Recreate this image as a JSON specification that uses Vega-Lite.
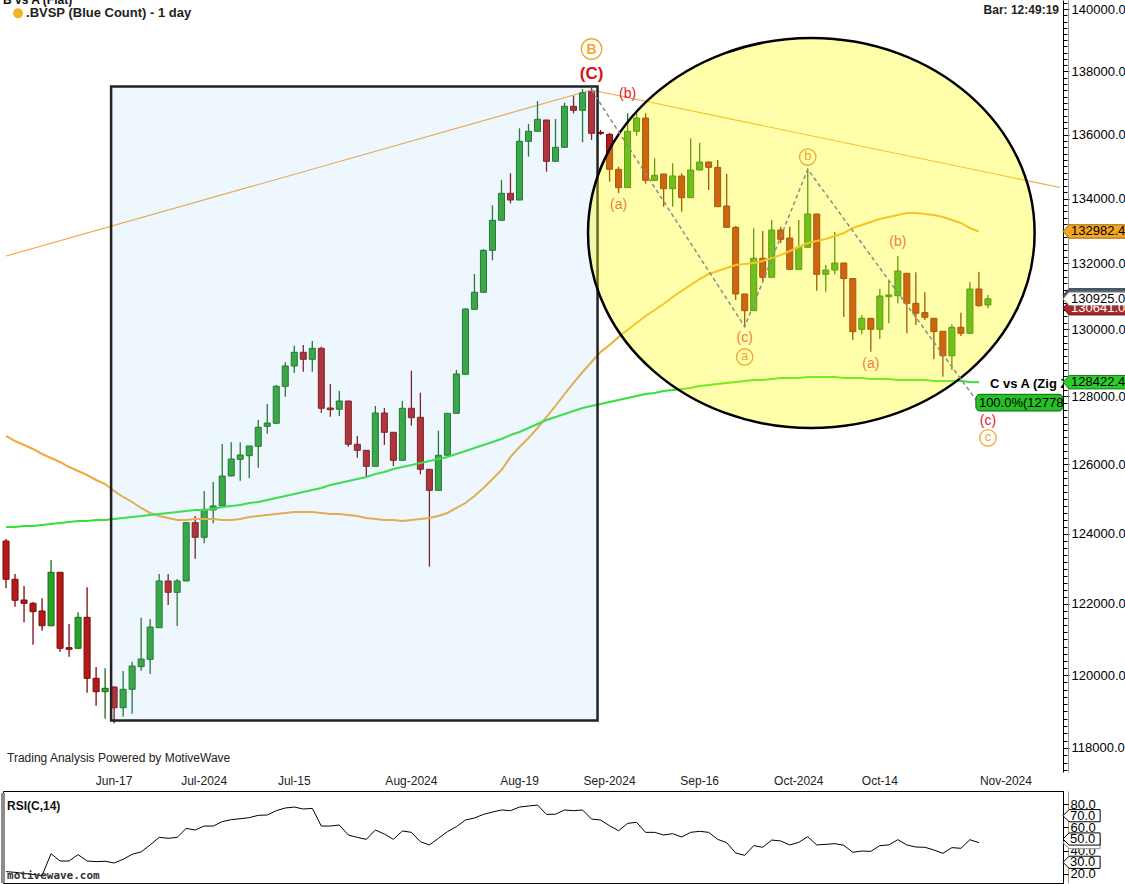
{
"$schema": "https://vega.github.io/schema/vega-lite/v6.json",
"padding": 0,
"spacing": 19,
"bounds": "flush",
"background": "white",
"config": {"font": "Liberation Sans", "view": {"stroke": null}},
"datasets": {
"bars": [
{"d":"2024-05-29","o":123787,"h":123845,"l":122439,"c":122695,"m1":126833,"m2":124189,"r":22.0},
{"d":"2024-05-31","o":122695,"h":122845,"l":121919,"c":122100,"m1":126686,"m2":124189,"r":21.4},
{"d":"2024-06-03","o":122108,"h":122505,"l":121479,"c":122015,"m1":126569,"m2":124218,"r":20.5},
{"d":"2024-06-04","o":122015,"h":122052,"l":120851,"c":121778,"m1":126452,"m2":124218,"r":19.5},
{"d":"2024-06-05","o":121798,"h":122156,"l":121243,"c":121384,"m1":126306,"m2":124247,"r":18.6},
{"d":"2024-06-06","o":121384,"h":123244,"l":121370,"c":122894,"m1":126189,"m2":124276,"r":37.4},
{"d":"2024-06-07","o":122894,"h":122900,"l":120656,"c":120751,"m1":126072,"m2":124305,"r":31.1},
{"d":"2024-06-10","o":120768,"h":121432,"l":120516,"c":120723,"m1":125926,"m2":124333,"r":31.1},
{"d":"2024-06-11","o":120751,"h":121761,"l":120740,"c":121620,"m1":125810,"m2":124362,"r":36.6},
{"d":"2024-06-12","o":121620,"h":122468,"l":119516,"c":119915,"m1":125693,"m2":124362,"r":31.1},
{"d":"2024-06-13","o":119915,"h":120229,"l":119157,"c":119544,"m1":125548,"m2":124391,"r":30.6},
{"d":"2024-06-14","o":119544,"h":120193,"l":118799,"c":119638,"m1":125431,"m2":124391,"r":30.9},
{"d":"2024-06-17","o":119674,"h":119690,"l":118673,"c":119101,"m1":125228,"m2":124420,"r":29.4},
{"d":"2024-06-18","o":119101,"h":120118,"l":118854,"c":119610,"m1":125055,"m2":124449,"r":32.6},
{"d":"2024-06-19","o":119610,"h":120377,"l":118936,"c":120257,"m1":124910,"m2":124477,"r":36.9},
{"d":"2024-06-20","o":120238,"h":121609,"l":120127,"c":120452,"m1":124737,"m2":124506,"r":38.9},
{"d":"2024-06-21","o":120443,"h":121572,"l":120035,"c":121347,"m1":124593,"m2":124535,"r":44.9},
{"d":"2024-06-24","o":121328,"h":122845,"l":121320,"c":122647,"m1":124506,"m2":124564,"r":51.4},
{"d":"2024-06-25","o":122647,"h":122845,"l":121967,"c":122326,"m1":124449,"m2":124593,"r":50.6},
{"d":"2024-06-26","o":122326,"h":122703,"l":121375,"c":122647,"m1":124391,"m2":124621,"r":51.4},
{"d":"2024-06-27","o":122647,"h":124330,"l":122640,"c":124313,"m1":124391,"m2":124650,"r":59.1},
{"d":"2024-06-28","o":124313,"h":124506,"l":123281,"c":123893,"m1":124420,"m2":124679,"r":57.7},
{"d":"2024-07-01","o":123893,"h":125228,"l":123722,"c":124699,"m1":124420,"m2":124679,"r":61.1},
{"d":"2024-07-02","o":124679,"h":125490,"l":124296,"c":124795,"m1":124420,"m2":124708,"r":61.1},
{"d":"2024-07-03","o":124795,"h":126599,"l":124790,"c":125664,"m1":124391,"m2":124766,"r":64.9},
{"d":"2024-07-04","o":125664,"h":126649,"l":125660,"c":126159,"m1":124391,"m2":124795,"r":66.6},
{"d":"2024-07-05","o":126150,"h":126649,"l":125528,"c":126276,"m1":124420,"m2":124824,"r":67.4},
{"d":"2024-07-08","o":126256,"h":126540,"l":125597,"c":126540,"m1":124477,"m2":124881,"r":68.3},
{"d":"2024-07-09","o":126530,"h":127304,"l":125906,"c":127089,"m1":124506,"m2":124910,"r":70.3},
{"d":"2024-07-10","o":127118,"h":127775,"l":126901,"c":127215,"m1":124535,"m2":124968,"r":70.6},
{"d":"2024-07-11","o":127206,"h":128339,"l":127200,"c":128301,"m1":124564,"m2":125026,"r":74.3},
{"d":"2024-07-12","o":128301,"h":129015,"l":127992,"c":128905,"m1":124593,"m2":125084,"r":76.6},
{"d":"2024-07-15","o":128905,"h":129512,"l":128706,"c":129314,"m1":124621,"m2":125142,"r":77.4},
{"d":"2024-07-16","o":129314,"h":129533,"l":128735,"c":129105,"m1":124621,"m2":125199,"r":75.7},
{"d":"2024-07-17","o":129105,"h":129653,"l":128735,"c":129434,"m1":124621,"m2":125257,"r":76.3},
{"d":"2024-07-18","o":129434,"h":129484,"l":127519,"c":127649,"m1":124593,"m2":125315,"r":61.1},
{"d":"2024-07-19","o":127658,"h":128369,"l":127401,"c":127608,"m1":124564,"m2":125403,"r":61.1},
{"d":"2024-07-22","o":127620,"h":128161,"l":127422,"c":127864,"m1":124564,"m2":125461,"r":62.0},
{"d":"2024-07-23","o":127864,"h":127870,"l":126520,"c":126590,"m1":124535,"m2":125519,"r":53.4},
{"d":"2024-07-24","o":126590,"h":126833,"l":126197,"c":126414,"m1":124506,"m2":125577,"r":51.4},
{"d":"2024-07-25","o":126414,"h":126420,"l":125635,"c":125947,"m1":124449,"m2":125635,"r":49.7},
{"d":"2024-07-26","o":125947,"h":127717,"l":125940,"c":127510,"m1":124420,"m2":125722,"r":57.7},
{"d":"2024-07-29","o":127510,"h":127658,"l":126570,"c":126942,"m1":124391,"m2":125781,"r":54.3},
{"d":"2024-07-30","o":126942,"h":126950,"l":125956,"c":126121,"m1":124391,"m2":125868,"r":49.7},
{"d":"2024-07-31","o":126121,"h":127864,"l":126115,"c":127649,"m1":124362,"m2":125926,"r":56.9},
{"d":"2024-08-01","o":127649,"h":128765,"l":127136,"c":127372,"m1":124391,"m2":125985,"r":55.7},
{"d":"2024-08-02","o":127383,"h":128111,"l":125714,"c":125860,"m1":124420,"m2":126042,"r":47.7},
{"d":"2024-08-05","o":125860,"h":125870,"l":123053,"c":125248,"m1":124449,"m2":126101,"r":44.9},
{"d":"2024-08-06","o":125248,"h":126989,"l":125240,"c":126268,"m1":124506,"m2":126160,"r":50.6},
{"d":"2024-08-07","o":126268,"h":127510,"l":126260,"c":127500,"m1":124593,"m2":126218,"r":56.3},
{"d":"2024-08-08","o":127500,"h":128786,"l":127495,"c":128667,"m1":124737,"m2":126306,"r":60.6},
{"d":"2024-08-09","o":128658,"h":130638,"l":128650,"c":130617,"m1":124881,"m2":126394,"r":66.3},
{"d":"2024-08-12","o":130608,"h":131679,"l":130600,"c":131123,"m1":125084,"m2":126482,"r":68.0},
{"d":"2024-08-13","o":131123,"h":132434,"l":131120,"c":132404,"m1":125315,"m2":126569,"r":71.1},
{"d":"2024-08-14","o":132404,"h":133790,"l":132098,"c":133327,"m1":125577,"m2":126657,"r":73.1},
{"d":"2024-08-15","o":133327,"h":134576,"l":133320,"c":134162,"m1":125839,"m2":126745,"r":74.9},
{"d":"2024-08-16","o":134162,"h":134785,"l":133852,"c":133954,"m1":126218,"m2":126862,"r":74.3},
{"d":"2024-08-19","o":133954,"h":136197,"l":133950,"c":135787,"m1":126511,"m2":126950,"r":77.4},
{"d":"2024-08-20","o":135787,"h":136332,"l":135304,"c":136102,"m1":126775,"m2":127068,"r":78.3},
{"d":"2024-08-21","o":136102,"h":137059,"l":136100,"c":136480,"m1":127068,"m2":127186,"r":79.1},
{"d":"2024-08-22","o":136458,"h":136458,"l":134835,"c":135160,"m1":127393,"m2":127304,"r":71.1},
{"d":"2024-08-23","o":135160,"h":136490,"l":135155,"c":135599,"m1":127717,"m2":127393,"r":71.3},
{"d":"2024-08-26","o":135599,"h":137005,"l":135595,"c":136891,"m1":128072,"m2":127481,"r":74.9},
{"d":"2024-08-27","o":136891,"h":137228,"l":136670,"c":136765,"m1":128399,"m2":127570,"r":74.3},
{"d":"2024-08-28","o":136765,"h":137440,"l":135756,"c":137323,"m1":128726,"m2":127658,"r":74.9},
{"d":"2024-08-29","o":137355,"h":137470,"l":135828,"c":136039,"m1":129024,"m2":127717,"r":67.1},
{"d":"2024-08-30","o":136070,"h":136143,"l":135985,"c":136035,"m1":129323,"m2":127776,"r":66.3},
{"d":"2024-09-02","o":136006,"h":136050,"l":134523,"c":134910,"m1":129533,"m2":127835,"r":61.4},
{"d":"2024-09-03","o":134910,"h":134991,"l":134162,"c":134337,"m1":129773,"m2":127894,"r":57.1},
{"d":"2024-09-04","o":134337,"h":136670,"l":134330,"c":136102,"m1":129984,"m2":127953,"r":63.4},
{"d":"2024-09-05","o":136102,"h":136670,"l":135963,"c":136521,"m1":130195,"m2":128013,"r":64.3},
{"d":"2024-09-06","o":136521,"h":136670,"l":134461,"c":134567,"m1":130406,"m2":128072,"r":55.7},
{"d":"2024-09-09","o":134567,"h":135254,"l":134560,"c":134723,"m1":130587,"m2":128102,"r":55.7},
{"d":"2024-09-10","o":134763,"h":134770,"l":133747,"c":134305,"m1":130768,"m2":128161,"r":53.4},
{"d":"2024-09-11","o":134305,"h":135098,"l":133747,"c":134701,"m1":130981,"m2":128191,"r":54.6},
{"d":"2024-09-12","o":134701,"h":134785,"l":133592,"c":134026,"m1":131163,"m2":128221,"r":51.7},
{"d":"2024-09-13","o":134026,"h":135881,"l":134020,"c":134888,"m1":131345,"m2":128250,"r":55.7},
{"d":"2024-09-16","o":134888,"h":135743,"l":134880,"c":135138,"m1":131527,"m2":128310,"r":56.6},
{"d":"2024-09-17","o":135138,"h":135145,"l":134265,"c":134971,"m1":131679,"m2":128339,"r":55.7},
{"d":"2024-09-18","o":134971,"h":135201,"l":133740,"c":133747,"m1":131771,"m2":128369,"r":49.7},
{"d":"2024-09-19","o":133769,"h":134763,"l":133105,"c":133110,"m1":131862,"m2":128399,"r":46.9},
{"d":"2024-09-20","o":133110,"h":133150,"l":130889,"c":131071,"m1":131954,"m2":128429,"r":38.0},
{"d":"2024-09-23","o":131071,"h":131080,"l":130083,"c":130566,"m1":131984,"m2":128458,"r":36.0},
{"d":"2024-09-24","o":130566,"h":133079,"l":130560,"c":132159,"m1":132015,"m2":128488,"r":44.3},
{"d":"2024-09-25","o":132159,"h":132997,"l":131476,"c":131579,"m1":132076,"m2":128488,"r":42.9},
{"d":"2024-09-26","o":131579,"h":133336,"l":131570,"c":133027,"m1":132168,"m2":128518,"r":49.1},
{"d":"2024-09-27","o":133027,"h":133129,"l":132619,"c":132741,"m1":132260,"m2":128548,"r":48.3},
{"d":"2024-09-30","o":132781,"h":133129,"l":131815,"c":131821,"m1":132382,"m2":128548,"r":44.9},
{"d":"2024-10-01","o":131821,"h":133336,"l":131815,"c":132496,"m1":132505,"m2":128548,"r":47.1},
{"d":"2024-10-02","o":132496,"h":134910,"l":132490,"c":133521,"m1":132628,"m2":128577,"r":52.0},
{"d":"2024-10-03","o":133521,"h":133530,"l":131172,"c":131670,"m1":132689,"m2":128577,"r":44.9},
{"d":"2024-10-04","o":131670,"h":131953,"l":131142,"c":131801,"m1":132751,"m2":128577,"r":45.4},
{"d":"2024-10-07","o":131801,"h":132976,"l":131670,"c":132015,"m1":132843,"m2":128577,"r":46.0},
{"d":"2024-10-08","o":132015,"h":132020,"l":130376,"c":131540,"m1":132935,"m2":128548,"r":44.6},
{"d":"2024-10-09","o":131540,"h":131545,"l":129683,"c":129933,"m1":133089,"m2":128548,"r":38.6},
{"d":"2024-10-10","o":130004,"h":130436,"l":129855,"c":130336,"m1":133182,"m2":128548,"r":39.7},
{"d":"2024-10-11","o":130336,"h":130340,"l":129330,"c":130004,"m1":133274,"m2":128518,"r":39.4},
{"d":"2024-10-14","o":130004,"h":131223,"l":129713,"c":131011,"m1":133367,"m2":128518,"r":44.3},
{"d":"2024-10-15","o":130990,"h":131467,"l":130186,"c":131041,"m1":133429,"m2":128518,"r":44.9},
{"d":"2024-10-16","o":131020,"h":132229,"l":130789,"c":131771,"m1":133491,"m2":128488,"r":49.4},
{"d":"2024-10-17","o":131700,"h":131700,"l":129885,"c":130789,"m1":133552,"m2":128488,"r":44.9},
{"d":"2024-10-18","o":130789,"h":131731,"l":130135,"c":130487,"m1":133552,"m2":128488,"r":43.1},
{"d":"2024-10-21","o":130506,"h":131123,"l":130285,"c":130367,"m1":133521,"m2":128488,"r":42.9},
{"d":"2024-10-22","o":130336,"h":130340,"l":129104,"c":129933,"m1":133491,"m2":128458,"r":40.6},
{"d":"2024-10-23","o":129945,"h":129950,"l":128586,"c":129213,"m1":133429,"m2":128458,"r":37.7},
{"d":"2024-10-24","o":129213,"h":130155,"l":128786,"c":130065,"m1":133336,"m2":128458,"r":42.6},
{"d":"2024-10-25","o":130065,"h":130506,"l":129804,"c":129885,"m1":133244,"m2":128458,"r":42.0},
{"d":"2024-10-28","o":129885,"h":131428,"l":129880,"c":131223,"m1":133089,"m2":128429,"r":49.4},
{"d":"2024-10-29","o":131223,"h":131750,"l":130687,"c":130717,"m1":132982.4,"m2":128422.4,"r":46.9},
{"d":"2024-10-30","o":130738,"h":131041,"l":130641,"c":130925,"m1":null,"m2":null,"r":null}
],
"lab": [
{"d":"2024-08-29","p":138719,"t":"B","k":"circB"},
{"d":"2024-08-29","p":137920,"t":"(C)","k":"redBold"},
{"d":"2024-09-04","p":137281,"t":"(b)","k":"red"},
{"d":"2024-09-03","p":133800,"t":"(a)","k":"orange"},
{"d":"2024-09-23","p":129744,"t":"(c)","k":"orange"},
{"d":"2024-09-23","p":129174,"t":"a","k":"circ"},
{"d":"2024-10-02","p":135294,"t":"b","k":"circ"},
{"d":"2024-10-16","p":132659,"t":"(b)","k":"orange"},
{"d":"2024-10-11","p":128964,"t":"(a)","k":"orange"},
{"d":"2024-10-30","p":127274,"t":"(c)","k":"red"},
{"d":"2024-10-30","p":126776,"t":"c","k":"circ"}
],
"tags": [
{"k":"ma50","p":132982.4},
{"k":"slate","p":131030},
{"k":"prev","p":130641},
{"k":"last","p":130925},
{"k":"ma200","p":128422.4}
],
"rsitags": [
{"k":"cur","v":46.9},
{"k":"lvl","v":70},
{"k":"lvl","v":50},
{"k":"lvl","v":30}
]
},
"vconcat": [
{
"width": 1060,
"height": 772,
"view": {"stroke": null},
"data": {"name": "bars"},
"encoding": {
"x": {"field": "d", "type": "ordinal", "axis": null,
"scale": {"type": "band", "paddingInner": 0.33, "paddingOuter": 0,
"domain": ["2024-05-29","2024-05-31","2024-06-03","2024-06-04","2024-06-05","2024-06-06","2024-06-07","2024-06-10","2024-06-11","2024-06-12","2024-06-13","2024-06-14","2024-06-17","2024-06-18","2024-06-19","2024-06-20","2024-06-21","2024-06-24","2024-06-25","2024-06-26","2024-06-27","2024-06-28","2024-07-01","2024-07-02","2024-07-03","2024-07-04","2024-07-05","2024-07-08","2024-07-09","2024-07-10","2024-07-11","2024-07-12","2024-07-15","2024-07-16","2024-07-17","2024-07-18","2024-07-19","2024-07-22","2024-07-23","2024-07-24","2024-07-25","2024-07-26","2024-07-29","2024-07-30","2024-07-31","2024-08-01","2024-08-02","2024-08-05","2024-08-06","2024-08-07","2024-08-08","2024-08-09","2024-08-12","2024-08-13","2024-08-14","2024-08-15","2024-08-16","2024-08-19","2024-08-20","2024-08-21","2024-08-22","2024-08-23","2024-08-26","2024-08-27","2024-08-28","2024-08-29","2024-08-30","2024-09-02","2024-09-03","2024-09-04","2024-09-05","2024-09-06","2024-09-09","2024-09-10","2024-09-11","2024-09-12","2024-09-13","2024-09-16","2024-09-17","2024-09-18","2024-09-19","2024-09-20","2024-09-23","2024-09-24","2024-09-25","2024-09-26","2024-09-27","2024-09-30","2024-10-01","2024-10-02","2024-10-03","2024-10-04","2024-10-07","2024-10-08","2024-10-09","2024-10-10","2024-10-11","2024-10-14","2024-10-15","2024-10-16","2024-10-17","2024-10-18","2024-10-21","2024-10-22","2024-10-23","2024-10-24","2024-10-25","2024-10-28","2024-10-29","2024-10-30","2024-10-31","2024-11-01","2024-11-04","2024-11-05","2024-11-06","2024-11-07","2024-11-08","2024-11-11"]}}
},
"resolve": {"axis": {"x": "independent", "y": "independent"}},
"layer": [
{
"data": {"values": [
{"g":"t1","d":"2024-05-29","p":132229},{"g":"t1","d":"2024-08-29","p":137409},
{"g":"t2","d":"2024-08-29","p":137409},{"g":"t2","d":"2024-11-11","p":134343}]},
"mark": {"type": "line", "color": "#f3a53c", "strokeWidth": 1.1, "clip": true},
"encoding": {
"x": {"field": "d", "type": "ordinal", "axis": null},
"y": {"field": "p", "type": "quantitative", "scale": {"type": "log", "domain": [117342, 140302], "nice": false, "zero": false}, "axis": null},
"detail": {"field": "g"}
}
},
{
"mark": {"type": "rule", "strokeWidth": 1.3},
"encoding": {
"y": {"field": "l", "type": "quantitative", "scale": {"type": "log", "domain": [117342, 140302], "nice": false, "zero": false},
"axis": {"orient": "right", "values": [117400,117600,117800,118000,118200,118400,118600,118800,119000,119200,119400,119600,119800,120000,120200,120400,120600,120800,121000,121200,121400,121600,121800,122000,122200,122400,122600,122800,123000,123200,123400,123600,123800,124000,124200,124400,124600,124800,125000,125200,125400,125600,125800,126000,126200,126400,126600,126800,127000,127200,127400,127600,127800,128000,128200,128400,128600,128800,129000,129200,129400,129600,129800,130000,130200,130400,130600,130800,131000,131200,131400,131600,131800,132000,132200,132400,132600,132800,133000,133200,133400,133600,133800,134000,134200,134400,134600,134800,135000,135200,135400,135600,135800,136000,136200,136400,136600,136800,137000,137200,137400,137600,137800,138000,138200,138400,138600,138800,139000,139200,139400,139600,139800,140000,140200],
"labels": false, "domain": false, "grid": false, "title": null, "tickSize": 4, "tickColor": "#000"}},
"y2": {"field": "h"},
"color": {"condition": {"test": "datum.c >= datum.o", "value": "#176a17"}, "value": "#7a0a0a"}
}
},
{
"mark": {"type": "bar", "strokeWidth": 1},
"encoding": {
"x": {"field": "d", "type": "ordinal",
"axis": {"values": ["2024-06-17","2024-07-01","2024-07-15","2024-08-01","2024-08-19","2024-09-02","2024-09-16","2024-10-01","2024-10-14","2024-11-01"],
"labelExpr": "utcdate(toDate(datum.value)) < 5 ? utcFormat(toDate(datum.value), '%b-%Y') : utcFormat(toDate(datum.value), '%b-%d')",
"orient": "bottom", "ticks": false, "tickSize": 0, "domain": false, "grid": false, "title": null, "labelAngle": 0,
"labelFontSize": 12, "labelColor": "#222", "labelPadding": 3, "labelBaseline": "top", "labelOverlap": false}},
"y": {"field": "o", "type": "quantitative", "scale": {"type": "log", "domain": [117342, 140302], "nice": false, "zero": false},
"axis": {"orient": "right", "values": [118000,120000,122000,124000,126000,128000,130000,132000,134000,136000,138000,140000],
"format": ".1f", "title": null, "grid": false, "tickSize": 6, "tickColor": "#000", "domainColor": "#000",
"labelFontSize": 13, "labelColor": "#000", "labelPadding": 2, "labelBound": false, "labelOverlap": false, "labelFlush": false}},
"y2": {"field": "c"},
"fill": {"condition": {"test": "datum.c >= datum.o", "value": "#2aa32a"}, "value": "#b51a1a"},
"stroke": {"condition": {"test": "datum.c >= datum.o", "value": "#176a17"}, "value": "#7a0a0a"}
}
},
{
"mark": {"type": "line", "color": "#f2a83a", "strokeWidth": 2},
"encoding": {
"y": {"field": "m1", "type": "quantitative",
"axis": {"orient": "right", "offset": 5, "domain": true, "domainColor": "#9a9a9a", "ticks": false, "labels": false, "grid": false, "title": null}}
}
},
{
"mark": {"type": "line", "color": "#33e033", "strokeWidth": 2},
"encoding": {"y": {"field": "m2", "type": "quantitative", "axis": null}}
},
{
"data": {"values": [{"d1": "2024-06-17", "d2": "2024-08-30", "lo": 118749, "hi": 137520}]},
"mark": {"type": "rect", "fill": "#8cc8f5", "fillOpacity": 0.15, "stroke": "#222", "strokeWidth": 2.5},
"encoding": {
"x": {"field": "d1", "type": "ordinal", "bandPosition": 0, "axis": null},
"x2": {"field": "d2", "bandPosition": 0},
"y": {"field": "lo", "type": "quantitative", "axis": null},
"y2": {"field": "hi"}
}
},
{
"data": {"values": [{"d": "2024-10-02", "p": 132935}]},
"mark": {"type": "point", "filled": true, "fill": "#ffff00", "fillOpacity": 0.33, "stroke": "#000", "strokeWidth": 2.5, "strokeOpacity": 1, "opacity": 1, "size": 199452,
"shape": "M 1.016 0 C 1.016 0.4823 0.5683 0.8733 0.016 0.8733 C -0.5363 0.8733 -0.984 0.4823 -0.984 0 C -0.984 -0.4823 -0.5363 -0.8733 0.016 -0.8733 C 0.5683 -0.8733 1.016 -0.4823 1.016 0 Z"},
"encoding": {
"x": {"field": "d", "type": "ordinal", "axis": null},
"y": {"field": "p", "type": "quantitative", "axis": null}
}
},
{
"data": {"values": [{"k":1,"d":"2024-08-29","p":137409},{"k":2,"d":"2024-09-23","p":130083},{"k":3,"d":"2024-10-02","p":134910},{"k":4,"d":"2024-10-29","p":127781}]},
"mark": {"type": "line", "color": "#8a8a8a", "strokeWidth": 1.5, "strokeDash": [4, 3]},
"encoding": {
"x": {"field": "d", "type": "ordinal", "axis": null},
"y": {"field": "p", "type": "quantitative", "axis": null},
"order": {"field": "k"}
}
},
{
"data": {"name": "lab"},
"transform": [{"filter": "datum.k == 'orange'"}],
"mark": {"type": "text", "color": "#ef7d3a", "fontSize": 14, "baseline": "middle", "align": "center"},
"encoding": {"x": {"field": "d", "type": "ordinal", "axis": null}, "y": {"field": "p", "type": "quantitative", "axis": null}, "text": {"field": "t"}}
},
{
"data": {"name": "lab"},
"transform": [{"filter": "datum.k == 'red'"}],
"mark": {"type": "text", "color": "#e02424", "fontSize": 14, "baseline": "middle", "align": "center"},
"encoding": {"x": {"field": "d", "type": "ordinal", "axis": null}, "y": {"field": "p", "type": "quantitative", "axis": null}, "text": {"field": "t"}}
},
{
"data": {"name": "lab"},
"transform": [{"filter": "datum.k == 'redBold'"}],
"mark": {"type": "text", "color": "#e01010", "fontSize": 17, "fontWeight": "bold", "baseline": "middle", "align": "center"},
"encoding": {"x": {"field": "d", "type": "ordinal", "axis": null}, "y": {"field": "p", "type": "quantitative", "axis": null}, "text": {"field": "t"}}
},
{
"data": {"name": "lab"},
"transform": [{"filter": "datum.k == 'circ' || datum.k == 'circB'"}],
"mark": {"type": "point", "shape": "circle", "filled": false, "stroke": "#f2a632", "strokeWidth": 1.3, "opacity": 1},
"encoding": {"x": {"field": "d", "type": "ordinal", "axis": null}, "y": {"field": "p", "type": "quantitative", "axis": null},
"size": {"field": "k", "type": "nominal", "scale": {"domain": ["circB", "circ"], "range": [420, 270]}, "legend": null}}
},
{
"data": {"name": "lab"},
"transform": [{"filter": "datum.k == 'circB'"}],
"mark": {"type": "text", "color": "#f2a632", "fontSize": 14, "fontWeight": "bold", "baseline": "middle", "align": "center", "dy": 1},
"encoding": {"x": {"field": "d", "type": "ordinal", "axis": null}, "y": {"field": "p", "type": "quantitative", "axis": null}, "text": {"field": "t"}}
},
{
"data": {"name": "lab"},
"transform": [{"filter": "datum.k == 'circ'"}],
"mark": {"type": "text", "color": "#f2a632", "fontSize": 13, "baseline": "middle", "align": "center", "dy": -1},
"encoding": {"x": {"field": "d", "type": "ordinal", "axis": null}, "y": {"field": "p", "type": "quantitative", "axis": null}, "text": {"field": "t"}}
},
{
"data": {"values": [{"d1": "2024-10-29", "d2": "2024-11-11", "lo": 127569, "hi": 128063}]},
"mark": {"type": "rect", "fill": "#25c025", "stroke": "#106010", "strokeWidth": 1, "cornerRadius": 4, "clip": true},
"encoding": {
"x": {"field": "d1", "type": "ordinal", "bandPosition": 0, "axis": null},
"x2": {"field": "d2", "bandPosition": 1},
"y": {"field": "lo", "type": "quantitative", "axis": null},
"y2": {"field": "hi"}
}
},
{
"data": {"values": [{"d": "2024-10-29", "p": 127810, "t": "100.0%(127781.0)"}]},
"mark": {"type": "text", "color": "#000", "fontSize": 13, "align": "left", "baseline": "middle", "dx": 0, "clip": true},
"encoding": {"x": {"field": "d", "type": "ordinal", "axis": null}, "y": {"field": "p", "type": "quantitative", "axis": null}, "text": {"field": "t"}}
},
{
"data": {"values": [{"d": "2024-10-30", "p": 128369, "t": "C vs A (Zig Zag)"}]},
"mark": {"type": "text", "color": "#000", "fontSize": 13, "fontWeight": "bold", "align": "left", "baseline": "middle", "dx": 2, "clip": true},
"encoding": {"x": {"field": "d", "type": "ordinal", "axis": null}, "y": {"field": "p", "type": "quantitative", "axis": null}, "text": {"field": "t"}}
},
{
"data": {"values": [{"d": "2024-05-29", "p": 140302, "t": "B vs A (Flat)"}]},
"mark": {"type": "text", "color": "#111", "fontSize": 12, "fontWeight": "bold", "align": "left", "baseline": "middle", "dx": -3, "clip": true},
"encoding": {"x": {"field": "d", "type": "ordinal", "axis": null}, "y": {"field": "p", "type": "quantitative", "axis": null}, "text": {"field": "t"}}
},
{
"data": {"values": [{"d": "2024-05-31", "p": 139870}]},
"mark": {"type": "point", "filled": true, "fill": "#f5b325", "opacity": 1, "size": 100,
"shape": "M 1.6 0 C 1.6 0.5523 1.1523 1 0.6 1 C 0.0477 1 -0.4 0.5523 -0.4 0 C -0.4 -0.5523 0.0477 -1 0.6 -1 C 1.1523 -1 1.6 -0.5523 1.6 0 Z"},
"encoding": {"x": {"field": "d", "type": "ordinal", "axis": null}, "y": {"field": "p", "type": "quantitative", "axis": null}}
},
{
"data": {"values": [{"d": "2024-05-31", "p": 139870, "t": ".BVSP (Blue Count) - 1 day"}]},
"mark": {"type": "text", "color": "#222", "fontSize": 13, "fontWeight": "bold", "align": "left", "baseline": "middle", "dx": 11, "clip": true},
"encoding": {"x": {"field": "d", "type": "ordinal", "axis": null}, "y": {"field": "p", "type": "quantitative", "axis": null}, "text": {"field": "t"}}
},
{
"data": {"values": [{"d": "2024-11-11", "p": 139977, "t": "Bar: 12:49:19"}]},
"mark": {"type": "text", "color": "#222", "fontSize": 12, "fontWeight": "bold", "align": "right", "baseline": "middle", "dx": -1, "clip": true},
"encoding": {"x": {"field": "d", "type": "ordinal", "axis": null}, "y": {"field": "p", "type": "quantitative", "axis": null}, "text": {"field": "t"}}
},
{
"data": {"values": [{"d": "2024-05-29", "p": 117723, "t": "Trading Analysis Powered by MotiveWave"}]},
"mark": {"type": "text", "color": "#222", "fontSize": 12, "align": "left", "baseline": "middle", "dx": 1, "clip": true},
"encoding": {"x": {"field": "d", "type": "ordinal", "axis": null}, "y": {"field": "p", "type": "quantitative", "axis": null}, "text": {"field": "t"}}
},
{
"data": {"name": "tags"},
"mark": {"type": "point", "filled": true, "opacity": 1, "strokeWidth": 1, "size": 4096,
"shape": "M 0 0 L 0.19 -0.21 L 1.97 -0.21 L 1.97 0.21 L 0.19 0.21 Z"},
"encoding": {
"x": {"value": "width"},
"y": {"field": "p", "type": "quantitative", "axis": null},
"fill": {"field": "k", "type": "nominal", "scale": {"domain": ["ma50", "slate", "prev", "last", "ma200"], "range": ["#f5a623", "#4d5d6d", "#a52a2a", "#ffffff", "#2fcc2f"]}, "legend": null},
"stroke": {"field": "k", "type": "nominal", "scale": {"domain": ["ma50", "slate", "prev", "last", "ma200"], "range": ["#a06a10", "#2d3d4d", "#701515", "#8a8a8a", "#138013"]}, "legend": null}
}
},
{
"data": {"name": "tags"},
"transform": [{"filter": "datum.k != 'slate'"}],
"mark": {"type": "text", "fontSize": 13, "align": "left", "baseline": "middle", "dx": 8},
"encoding": {
"x": {"value": "width"},
"y": {"field": "p", "type": "quantitative", "axis": null},
"text": {"field": "p", "type": "quantitative", "format": ".1f"},
"color": {"condition": {"test": "datum.k == 'prev'", "value": "#ffffff"}, "value": "#000000"}
}
}
]
},
{
"width": 1060,
"height": 92,
"view": {"stroke": "#000", "strokeWidth": 1},
"data": {"name": "bars"},
"encoding": {
"x": {"field": "d", "type": "ordinal", "axis": null,
"scale": {"type": "band", "paddingInner": 0.33, "paddingOuter": 0,
"domain": ["2024-05-29","2024-05-31","2024-06-03","2024-06-04","2024-06-05","2024-06-06","2024-06-07","2024-06-10","2024-06-11","2024-06-12","2024-06-13","2024-06-14","2024-06-17","2024-06-18","2024-06-19","2024-06-20","2024-06-21","2024-06-24","2024-06-25","2024-06-26","2024-06-27","2024-06-28","2024-07-01","2024-07-02","2024-07-03","2024-07-04","2024-07-05","2024-07-08","2024-07-09","2024-07-10","2024-07-11","2024-07-12","2024-07-15","2024-07-16","2024-07-17","2024-07-18","2024-07-19","2024-07-22","2024-07-23","2024-07-24","2024-07-25","2024-07-26","2024-07-29","2024-07-30","2024-07-31","2024-08-01","2024-08-02","2024-08-05","2024-08-06","2024-08-07","2024-08-08","2024-08-09","2024-08-12","2024-08-13","2024-08-14","2024-08-15","2024-08-16","2024-08-19","2024-08-20","2024-08-21","2024-08-22","2024-08-23","2024-08-26","2024-08-27","2024-08-28","2024-08-29","2024-08-30","2024-09-02","2024-09-03","2024-09-04","2024-09-05","2024-09-06","2024-09-09","2024-09-10","2024-09-11","2024-09-12","2024-09-13","2024-09-16","2024-09-17","2024-09-18","2024-09-19","2024-09-20","2024-09-23","2024-09-24","2024-09-25","2024-09-26","2024-09-27","2024-09-30","2024-10-01","2024-10-02","2024-10-03","2024-10-04","2024-10-07","2024-10-08","2024-10-09","2024-10-10","2024-10-11","2024-10-14","2024-10-15","2024-10-16","2024-10-17","2024-10-18","2024-10-21","2024-10-22","2024-10-23","2024-10-24","2024-10-25","2024-10-28","2024-10-29","2024-10-30","2024-10-31","2024-11-01","2024-11-04","2024-11-05","2024-11-06","2024-11-07","2024-11-08","2024-11-11"]}}
},
"resolve": {"axis": {"y": "independent"}},
"layer": [
{
"data": {"values": [{"v": 70}, {"v": 30}]},
"mark": {"type": "rule", "color": "#000", "strokeWidth": 1.2},
"encoding": {"y": {"field": "v", "type": "quantitative", "scale": {"domain": [12.25, 91.18], "nice": false, "zero": false},
"axis": {"orient": "right", "offset": 5, "domain": true, "domainColor": "#9a9a9a", "ticks": false, "labels": false, "grid": false, "title": null}}}
},
{
"data": {"values": [{"v": 50}]},
"mark": {"type": "rule", "color": "#000", "strokeWidth": 1, "strokeDash": [4, 3]},
"encoding": {"y": {"field": "v", "type": "quantitative", "axis": null}}
},
{
"mark": {"type": "line", "color": "#000", "strokeWidth": 1},
"encoding": {
"y": {"field": "r", "type": "quantitative", "scale": {"domain": [12.25, 91.18], "nice": false, "zero": false},
"axis": {"orient": "right", "values": [20, 30, 40, 50, 60, 70, 80], "format": ".1f", "title": null, "grid": false,
"tickSize": 5, "tickColor": "#000", "domainColor": "#000", "labelFontSize": 13, "labelColor": "#000", "labelPadding": 2, "labelBound": false, "labelOverlap": false, "labelFlush": false}}
}
},
{
"data": {"values": [{"v": 89.4}]},
"mark": {"type": "rule", "color": "#8c8c8c", "strokeWidth": 4},
"encoding": {"y": {"field": "v", "type": "quantitative", "axis": null}}
},
{
"data": {"values": [{"d": "2024-05-29", "v": 78.3, "t": "RSI(C,14)"}]},
"mark": {"type": "text", "color": "#111", "fontSize": 12, "fontWeight": "bold", "align": "left", "baseline": "middle", "dx": 1},
"encoding": {"x": {"field": "d", "type": "ordinal", "axis": null}, "y": {"field": "v", "type": "quantitative", "axis": null}, "text": {"field": "t"}}
},
{
"data": {"values": [{"d": "2024-05-29", "v": 18.3, "t": "motivewave.com"}]},
"mark": {"type": "text", "color": "#333", "font": "DejaVu Sans Mono", "fontSize": 11, "fontWeight": "bold", "align": "left", "baseline": "middle", "dx": 1},
"encoding": {"x": {"field": "d", "type": "ordinal", "axis": null}, "y": {"field": "v", "type": "quantitative", "axis": null}, "text": {"field": "t"}}
},
{
"data": {"name": "rsitags"},
"mark": {"type": "point", "filled": true, "opacity": 1, "strokeWidth": 1, "size": 4096, "fill": "#ffffff",
"shape": "M 0 0 L 0.19 -0.19 L 1.16 -0.19 L 1.16 0.19 L 0.19 0.19 Z"},
"encoding": {
"x": {"value": "width"},
"y": {"field": "v", "type": "quantitative", "axis": null},
"stroke": {"condition": {"test": "datum.k == 'cur'", "value": "#8a8a8a"}, "value": "#000000"}
}
},
{
"data": {"name": "rsitags"},
"transform": [{"filter": "datum.k == 'lvl'"}],
"mark": {"type": "text", "fontSize": 13, "align": "left", "baseline": "middle", "dx": 7, "color": "#000"},
"encoding": {
"x": {"value": "width"},
"y": {"field": "v", "type": "quantitative", "axis": null},
"text": {"field": "v", "type": "quantitative", "format": ".1f"}
}
}
]
}
]
}
